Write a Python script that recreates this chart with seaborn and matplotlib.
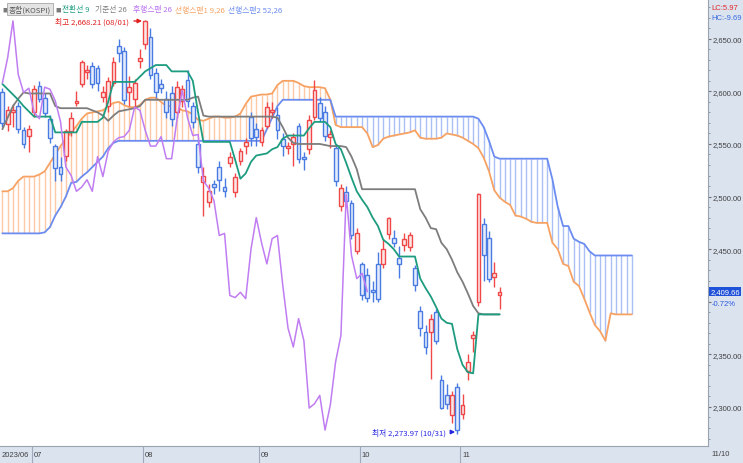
import numpy as np
import matplotlib
matplotlib.use("Agg")
import matplotlib.pyplot as plt
import seaborn as sns

# KOSPI daily candles, 2023/06/23 .. 2023/11/10
opens = [2599, 2569, 2580, 2586, 2563, 2558, 2580, 2605, 2594, 2574,
         2548, 2528, 2539, 2562, 2589, 2607, 2618, 2624, 2622, 2595,
         2586, 2608, 2643, 2638, 2599, 2593, 2629, 2645, 2652, 2617,
         2607, 2593, 2598, 2580, 2591, 2611, 2586, 2550, 2514, 2495,
         2512, 2528, 2509, 2532, 2504, 2534, 2548, 2576, 2564, 2552,
         2567, 2580, 2578, 2555, 2546, 2550, 2567, 2537, 2545, 2576,
         2589, 2580, 2557, 2546, 2491, 2504, 2494, 2448, 2436, 2425,
         2411, 2436, 2436, 2464, 2461, 2442, 2454, 2452, 2432, 2391,
         2371, 2371, 2390, 2326, 2311, 2292, 2319, 2293, 2334, 2366,
         2400, 2474, 2461, 2424, 2406]
highs = [2603, 2586, 2588, 2590, 2566, 2568, 2606, 2610, 2598, 2578,
         2550, 2538, 2564, 2580, 2600, 2630, 2625, 2628, 2625, 2605,
         2614, 2633, 2650, 2642, 2615, 2612, 2640, 2668.21, 2660, 2622,
         2612, 2600, 2605, 2610, 2606, 2620, 2590, 2553, 2528, 2512,
         2516, 2534, 2518, 2542, 2522, 2546, 2556, 2580, 2570, 2566,
         2590, 2590, 2585, 2560, 2552, 2560, 2570, 2542, 2578, 2611,
         2595, 2586, 2563, 2550, 2512, 2510, 2497, 2470, 2438, 2432,
         2420, 2447, 2460, 2481, 2468, 2453, 2465, 2466, 2435, 2396,
         2378, 2388, 2393, 2330, 2322, 2315, 2323, 2312, 2350, 2372,
         2503, 2480, 2467, 2438, 2414]
lows = [2566, 2562, 2566, 2560, 2546, 2542, 2576, 2590, 2576, 2551,
        2515, 2515, 2534, 2558, 2586, 2604, 2612, 2603, 2600, 2590,
        2580, 2605, 2628, 2588, 2586, 2585, 2622, 2640, 2612, 2594,
        2598, 2575, 2567, 2575, 2585, 2585, 2565, 2522, 2482, 2490,
        2502, 2505, 2500, 2528, 2500, 2530, 2540, 2548, 2548, 2548,
        2565, 2575, 2555, 2539, 2540, 2529, 2532, 2525, 2540, 2573,
        2572, 2553, 2546, 2510, 2486, 2490, 2460, 2445, 2402, 2400,
        2400, 2400, 2432, 2460, 2452, 2423, 2448, 2448, 2410, 2367,
        2350, 2327, 2360, 2298, 2298, 2285, 2273.97, 2289, 2326, 2352,
        2396, 2420, 2419, 2414, 2393]
closes = [2570, 2582, 2582, 2564, 2550, 2564, 2602, 2593, 2579, 2556,
          2527, 2521, 2562, 2575, 2591, 2628, 2620, 2607, 2608, 2599,
          2610, 2628, 2636, 2592, 2604, 2608, 2632, 2667, 2616, 2599,
          2603, 2580, 2574, 2604, 2602, 2591, 2571, 2528, 2520, 2505,
          2509, 2516, 2505, 2538, 2519, 2543, 2552, 2556, 2557, 2563,
          2585, 2582, 2563, 2548, 2548, 2557, 2536, 2536, 2573, 2601,
          2575, 2558, 2559, 2515, 2508, 2496, 2463, 2465, 2406, 2404,
          2409, 2403, 2450, 2480, 2456, 2436, 2460, 2463, 2416, 2375,
          2357, 2384, 2363, 2299, 2303, 2311, 2278, 2302, 2343, 2368,
          2502, 2444, 2422, 2427, 2409.66]

# Ichimoku lines
tenkan = [2607, 2602, 2597, 2592, 2586, 2581, 2576, 2576, 2576, 2576,
          2561, 2561, 2561, 2561, 2561, 2571, 2571, 2571, 2571, 2575,
          2590, 2609, 2609, 2609, 2609, 2609, 2614, 2619, 2622, 2625,
          2625, 2625, 2619, 2619, 2619, 2619, 2610, 2580, 2552, 2552,
          2552, 2552, 2552, 2552, 2535, 2517, 2522, 2533, 2539, 2540,
          2541, 2545, 2547, 2555, 2558, 2558, 2558, 2558, 2565, 2571,
          2571, 2571, 2566, 2550, 2545, 2532, 2518, 2505, 2497, 2490,
          2480, 2472, 2459, 2455, 2450, 2443, 2443, 2443, 2443, 2422,
          2413, 2405, 2395, 2384, 2380, 2379, 2355, 2340, 2333, 2332,
          2388, 2388, 2388, 2388, 2388]
kijun = [2564, 2575, 2586, 2593, 2599, 2598, 2598, 2598, 2598, 2598,
         2586, 2584, 2584, 2584, 2584, 2584, 2584, 2582, 2580, 2577,
         2572, 2577, 2581, 2582, 2583, 2584, 2586, 2592, 2592, 2592,
         2592, 2592, 2592, 2592, 2592, 2592, 2594, 2595, 2577, 2576,
         2576, 2576, 2576, 2576, 2576, 2576, 2576, 2576, 2576, 2576,
         2576, 2576, 2575, 2566, 2556, 2551, 2550, 2550, 2550, 2550,
         2550, 2549, 2548, 2548, 2548, 2547, 2538, 2526, 2507, 2507,
         2507, 2507, 2507, 2507, 2507, 2507, 2507, 2507, 2507, 2488,
         2480, 2470, 2469, 2456, 2450, 2440, 2428, 2419, 2408, 2396,
         2389, 2388, 2388, 2388, 2388]
span1 = [2505, 2505, 2508, 2515, 2519, 2519, 2519, 2521, 2524, 2532,
         2540, 2548, 2555, 2561, 2567, 2574, 2579, 2580, 2581, 2582,
         2586, 2589, 2590, 2587, 2585, 2585, 2587, 2592, 2594, 2594,
         2590, 2586, 2586, 2585, 2582, 2581, 2578, 2573, 2572, 2574,
         2576, 2576, 2575, 2575, 2576, 2579, 2588, 2595, 2596, 2597,
         2597, 2598, 2606, 2610, 2610, 2610, 2608, 2605, 2604, 2604,
         2604, 2603, 2592, 2568, 2566, 2566, 2566, 2566, 2566, 2560,
         2547, 2549, 2555, 2557, 2558, 2559, 2560, 2561, 2563, 2556,
         2555, 2555, 2555, 2556, 2560, 2559, 2558, 2556, 2553, 2550,
         2546, 2537, 2524, 2506, 2499, 2495, 2492, 2482, 2481, 2479,
         2476, 2475, 2475, 2475, 2456, 2450, 2436, 2434, 2419, 2415,
         2403, 2390, 2378, 2372, 2363, 2389, 2388, 2388, 2388, 2388]
span2 = [2465, 2465, 2465, 2465, 2465, 2465, 2465, 2465, 2466, 2471,
         2482, 2490, 2500, 2513, 2514, 2519, 2523, 2528, 2533, 2538,
         2546, 2551, 2553, 2553, 2553, 2553, 2553, 2553, 2553, 2553,
         2553, 2553, 2553, 2553, 2553, 2553, 2553, 2553, 2553, 2553,
         2553, 2553, 2553, 2553, 2553, 2553, 2553, 2553, 2553, 2553,
         2564, 2575, 2586, 2592, 2592, 2592, 2592, 2592, 2592, 2592,
         2592, 2592, 2592, 2576, 2576, 2576, 2576, 2576, 2576, 2576,
         2576, 2576, 2576, 2576, 2576, 2576, 2576, 2576, 2576, 2576,
         2576, 2576, 2576, 2576, 2576, 2576, 2576, 2576, 2576, 2576,
         2574, 2566, 2553, 2538, 2536, 2536, 2536, 2536, 2536, 2536,
         2536, 2536, 2536, 2536, 2516, 2490, 2472, 2472, 2460, 2457,
         2455, 2448, 2444, 2444, 2444, 2444, 2444, 2444, 2444, 2444]

month_labels = ["07", "08", "09", "10", "11"]
month_pos = [6, 27, 49, 68, 87]
price_ticks = [2300, 2350, 2400, 2450, 2500, 2550, 2600, 2650]
price_labels = ["2,300.00", "2,350.00", "", "2,450.00", "2,500.00", "2,550.00", "2,600.00", "2,650.00"]

sns.set_theme(style="white")
NUM = ["Liberation Sans", "DejaVu Sans"]
KOR = ["Noto Sans CJK KR", "DejaVu Sans"]
plt.rcParams["font.family"] = KOR
plt.rcParams["axes.unicode_minus"] = False
NS = 5.5

o, h, l, c = map(np.array, (opens, highs, lows, closes))
days = np.arange(len(c))
ahead = np.arange(len(span1))

RED, BLUE = "#f04848", "#4a7be2"
fig = plt.figure(figsize=(7.43, 4.64), dpi=100)
fig.patch.set_facecolor("#dbe3ef")
ax = fig.add_axes([0, 17 / 464, 708 / 743, 447 / 464])
ax.set_facecolor("white")

# cloud hatch
s1, s2 = np.array(span1), np.array(span2)
hatch_col = np.where(s1 >= s2, "#fcc9a4", "#aabff5")
ax.vlines(ahead, np.minimum(s1, s2), np.maximum(s1, s2), colors=hatch_col, lw=1, zorder=1)

sns.lineplot(x=ahead, y=span1, color="#f7a263", linewidth=1.3, ax=ax, zorder=2)
sns.lineplot(x=ahead, y=span2, color="#6c8cf0", linewidth=1.3, ax=ax, zorder=2)

# candles
up = c >= o
col = np.where(up, RED, BLUE)
fill = np.where(up, "#fde6e6", "#e4ebfc")
ax.vlines(days, l, h, colors=col, lw=1, zorder=3)
body = np.maximum(np.abs(c - o), 1.5)
ax.bar(days, body, bottom=np.minimum(o, c), width=0.72, color=fill,
       edgecolor=col, linewidth=1, zorder=4)

sns.lineplot(x=days, y=kijun, color="#7d7d7d", linewidth=1.3, ax=ax, zorder=5)
sns.lineplot(x=days, y=tenkan, color="#1d9c80", linewidth=1.3, ax=ax, zorder=5)
sns.lineplot(x=days[:len(c) - 25], y=closes[25:], color="#c07df2", linewidth=1.1, ax=ax, zorder=5)

ax.set_xlim(-0.45, 133.4)
ax.set_ylim(2262.9, 2687.8)
ax.set_xlabel("")
ax.set_ylabel("")
for s in ["top", "left"]:
    ax.spines[s].set_visible(False)
for s in ["right", "bottom"]:
    ax.spines[s].set_color("#9aa3b0")
    ax.spines[s].set_linewidth(0.8)

ax.yaxis.tick_right()
ax.set_yticks(price_ticks)
ax.set_yticklabels(price_labels, family=NUM, fontsize=NS, color="#404040")
ax.set_yticks(np.arange(2270, 2690, 10), minor=True)
ax.tick_params(axis="y", which="major", direction="out", length=2.5, width=0.8, pad=0.5, color="#707070", right=True)
ax.tick_params(axis="y", which="minor", direction="out", length=1.5, width=0.6, color="#8a8a8a", right=True)

ax.set_xticks([p - 0.4 for p in month_pos])
ax.set_xticklabels([])
ax.tick_params(axis="x", direction="out", length=12, width=0.8, color="#a0aabb", bottom=True)
xt = ax.get_xaxis_transform()
ax.text(0.002, -0.018, "2023/06", transform=ax.transAxes, family=NUM, fontsize=NS,
        color="#404040", va="center", ha="left")
for p, lab in zip(month_pos, month_labels):
    ax.text(p - 0.1, -0.018, lab, transform=xt, family=NUM, fontsize=NS,
            color="#404040", va="center", ha="left", clip_on=False)
fig.text(711 / 743, 1 - 455 / 464, "11/10", family=NUM, fontsize=NS, color="#404040", va="center")

# high / low marks
ax.annotate("최고 2,668.21 (08/01)", xy=(26.4, 2666.9), xytext=(24.0, 2666.9),
            ha="right", va="center", fontsize=5.6, color="#e01e1e",
            arrowprops=dict(arrowstyle="-|>", color="#e01e1e", lw=1, mutation_scale=6,
                            shrinkA=1, shrinkB=0))
ax.annotate("최저 2,273.97 (10/31)", xy=(85.6, 2276.2), xytext=(83.9, 2276.2),
            ha="right", va="center", fontsize=5.6, color="#2626e0",
            arrowprops=dict(arrowstyle="-|>", color="#2626e0", lw=1, mutation_scale=6,
                            shrinkA=1, shrinkB=0))

# header legend
hy = 1 - 10 / 464
fig.text(2 / 743, hy, "■", fontsize=4, color="#7a7a7a", va="center")
fig.text(9 / 743, hy, "종합(KOSPI)", fontsize=5.6, color="#555555", va="center",
         bbox=dict(boxstyle="square,pad=0.25", fc="#e4e4e4", ec="#a8a8a8", lw=0.6))
fig.text(55 / 743, hy, "■", fontsize=4, color="#7a7a7a", va="center")
for xp, txt, colr in [(62, "전환선 9", "#1d9c80"), (95, "기준선 26", "#7d7d7d"),
                      (133, "후행스팬 26", "#b86ef0"), (175, "선행스팬1 9,26", "#f7a263"),
                      (228, "선행스팬2 52,26", "#6c8cf0")]:
    fig.text(xp / 743, hy, txt, fontsize=5.6, color=colr, va="center")

# right panel info
fig.text(711 / 743, 1 - 9 / 464, "LC:5.97", family=NUM, fontsize=NS, color="#e02828", va="center")
fig.text(711 / 743, 1 - 19 / 464, "HC:-9.69", family=NUM, fontsize=NS, color="#3a6ae0", va="center")
yt = ax.get_yaxis_transform()
ax.text(1.003, 2409.66, "2,409.66", transform=yt, family=NUM, fontsize=NS, color="white",
        va="center", ha="left", clip_on=False,
        bbox=dict(boxstyle="square,pad=0.12", fc="#1f52d8", ec="none"))
ax.text(1.005, 2398.5, "-0.72%", transform=yt, family=NUM, fontsize=NS, color="#2a5ae0",
        va="center", ha="left", clip_on=False)

fig.savefig("out.png", dpi=100, facecolor=fig.get_facecolor())
